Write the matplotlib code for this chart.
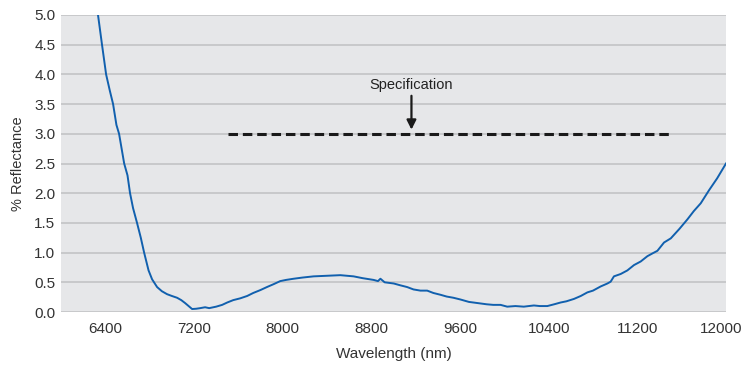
import numpy as np
import matplotlib.pyplot as plt
import matplotlib.transforms as mtransforms

plt.rcParams['font.family'] = ['Liberation Sans', 'DejaVu Sans']

# reflectance curve
wavelength = [6320, 6334, 6370, 6407, 6440, 6470, 6500, 6524, 6570, 6600, 6623, 6650, 6686,
              6720, 6750, 6790, 6822, 6867, 6910, 6957, 7000, 7047, 7085, 7120, 7183,
              7220, 7256, 7300, 7337, 7400, 7454, 7500, 7554, 7617, 7680, 7734, 7800,
              7858, 7920, 7978, 8030, 8099, 8180, 8279, 8400, 8520, 8580, 8640, 8720,
              8821, 8860, 8882, 8920, 9002, 9060, 9123, 9180, 9243, 9304, 9360, 9424,
              9480, 9540, 9605, 9680, 9760, 9840, 9900, 9966, 10026, 10100, 10176,
              10220, 10267, 10320, 10388, 10450, 10508, 10560, 10628, 10690, 10749,
              10800, 10869, 10930, 10959, 10989, 11050, 11110, 11170, 11230, 11291,
              11340, 11381, 11441, 11502, 11580, 11652, 11710, 11772, 11847, 11920, 12000]
reflectance = [5.2, 5.0, 4.5, 4.0, 3.73, 3.5, 3.15, 3.0, 2.5, 2.3, 2.0, 1.75, 1.5,
               1.25, 1.0, 0.7, 0.55, 0.42, 0.35, 0.3, 0.27, 0.24, 0.2, 0.15, 0.05,
               0.055, 0.065, 0.08, 0.065, 0.09, 0.12, 0.16, 0.2, 0.23, 0.27, 0.32, 0.37,
               0.42, 0.47, 0.52, 0.54, 0.56, 0.58, 0.6, 0.61, 0.62, 0.61, 0.6, 0.57,
               0.54, 0.52, 0.56, 0.5, 0.48, 0.45, 0.42, 0.38, 0.36, 0.36, 0.32, 0.29,
               0.26, 0.24, 0.21, 0.17, 0.15, 0.13, 0.12, 0.12, 0.09, 0.1, 0.09,
               0.1, 0.11, 0.1, 0.1, 0.13, 0.16, 0.18, 0.22, 0.27, 0.33,
               0.36, 0.43, 0.48, 0.51, 0.6, 0.64, 0.7, 0.79, 0.85, 0.94,
               0.99, 1.03, 1.17, 1.24, 1.4, 1.56, 1.7, 1.83, 2.05, 2.25, 2.5]

spec_range = [7509, 11483]
spec_value = 3.0
spec_arrow_x = 9162

x_ticks = [6400, 7200, 8000, 8800, 9600, 10400, 11200, 12000]
y_ticks = np.arange(0, 5.01, 0.5)

fig = plt.figure(figsize=(7.46, 3.73), dpi=100)
ax = fig.add_axes([61/746, 1-312/373, 665/746, 297/373])
ax.set_facecolor('#e6e7e9')

ax.plot(wavelength, reflectance, color='#1160ae', lw=1.4, zorder=3)
ax.plot(spec_range, [spec_value, spec_value], color='#1a1a1a', lw=2.2,
        linestyle=(0, (3.1, 1.6)), zorder=3)
ax.annotate('', xy=(spec_arrow_x, 3.07), xytext=(spec_arrow_x, 3.64),
            arrowprops=dict(arrowstyle='-|>', color='#1a1a1a', lw=1.6,
                            mutation_scale=14, shrinkA=0, shrinkB=0))
ax.text(spec_arrow_x, 3.7, 'Specification', ha='center', va='bottom',
        fontsize=10.5, color='#222222')

ax.set_xlim(6000, 12000)
ax.set_ylim(0, 5.0)
ax.set_xticks(x_ticks)
ax.set_yticks(y_ticks)
ax.set_yticklabels(['%.1f' % v for v in y_ticks])
ax.grid(axis='y', color='#bfc0c2', lw=1.1)
ax.set_axisbelow(True)
for s in ax.spines.values():
    s.set_visible(False)
ax.tick_params(length=0, labelsize=11, labelcolor='#333333')
ax.tick_params(axis='x', pad=7)
ax.tick_params(axis='y', pad=4)

# last x label sits a bit inside the edge in the original
last = ax.get_xticklabels()[-1]
last.set_transform(last.get_transform() +
                   mtransforms.ScaledTranslation(-5/100, 0, fig.dpi_scale_trans))

ax.set_xlabel('Wavelength (nm)', fontsize=11, color='#333333', labelpad=8)
ax.set_ylabel('% Reflectance', fontsize=10.5, color='#333333', labelpad=7)

fig.savefig('out.png', dpi=100)
